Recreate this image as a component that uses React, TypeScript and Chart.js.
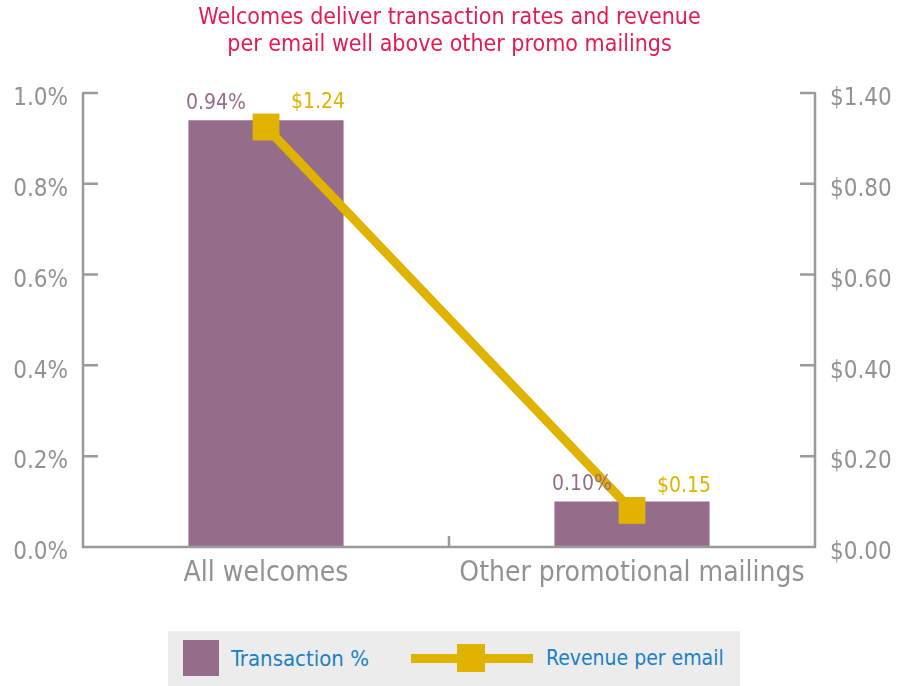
import React, { useEffect, useRef } from "react";
import { Chart, registerables } from "chart.js";
Chart.register(...registerables);

const categories = ["All welcomes", "Other promotional mailings"];
const transactionPct = [0.94, 0.1];
const revenuePerEmail = [1.24, 0.15];
const leftTickValues = [0, 0.2, 0.4, 0.6, 0.8, 1.0];
const rightTickLabels = ["$0.00", "$0.20", "$0.40", "$0.60", "$0.80", "$1.40"];
const titleLines = [
  "Welcomes deliver transaction rates and revenue",
  "per email well above other promo mailings",
];
const legendLabels = ["Transaction %", "Revenue per email"];

const RIGHT_MIN = 0.046;
const RIGHT_MAX = 1.337;

const FONT = '"Liberation Sans Narrow", "DejaVu Sans Condensed", "Roboto Condensed", "Liberation Sans", sans-serif';
const PURPLE = "#966c8b";
const GOLD = "#dfb300";
const AXIS = "#9a9a9a";
const TEXT_GRAY = "#929292";
const TITLE = "#e61a50";
const BLUE = "#1a80c4";

const axesPlugin = {
  id: "customAxes",
  afterDatasetsDraw(chart: any) {
    const { ctx, chartArea } = chart;
    const { left, right, top, bottom } = chartArea;
    const yL = chart.scales.y;
    const yR = chart.scales.y1;
    ctx.save();
    ctx.strokeStyle = AXIS;
    ctx.lineWidth = 2.5;
    ctx.beginPath();
    ctx.moveTo(left, top - 1);
    ctx.lineTo(left, bottom);
    ctx.lineTo(right, bottom);
    ctx.lineTo(right, top - 1);
    yL.ticks.forEach((t: any) => {
      const py = yL.getPixelForValue(t.value);
      ctx.moveTo(left, py);
      ctx.lineTo(left + 15, py);
    });
    yR.ticks.forEach((t: any) => {
      const py = yR.getPixelForValue(t.value);
      ctx.moveTo(right, py);
      ctx.lineTo(right - 15, py);
    });
    const mid = (left + right) / 2;
    ctx.moveTo(mid, bottom);
    ctx.lineTo(mid, bottom - 11);
    ctx.stroke();
    ctx.restore();
  },
  afterDraw(chart: any) {
    const { ctx } = chart;
    ctx.save();
    ctx.font = `21px ${FONT}`;
    ctx.textAlign = "center";
    ctx.textBaseline = "middle";
    const barMeta = chart.getDatasetMeta(0);
    barMeta.data.forEach((el: any, i: number) => {
      ctx.fillStyle = PURPLE;
      ctx.fillText(transactionPct[i].toFixed(2) + "%", el.x - 50, el.y - 17);
    });
    const lineMeta = chart.getDatasetMeta(1);
    lineMeta.data.forEach((el: any, i: number) => {
      ctx.fillStyle = GOLD;
      ctx.fillText("$" + revenuePerEmail[i].toFixed(2), el.x + 52, el.y - 24);
    });
    ctx.restore();
  },
};

export default function App() {
  const ref = useRef<HTMLCanvasElement | null>(null);
  useEffect(() => {
    if (!ref.current) return;
    const chart = new Chart(ref.current, {
      data: {
        labels: categories,
        datasets: [
          {
            type: "bar",
            label: legendLabels[0],
            data: transactionPct,
            yAxisID: "y",
            backgroundColor: PURPLE,
            barPercentage: 1,
            categoryPercentage: 0.424,
            order: 1,
          } as any,
          {
            type: "line",
            label: legendLabels[1],
            data: revenuePerEmail,
            yAxisID: "y1",
            borderColor: GOLD,
            backgroundColor: GOLD,
            borderWidth: 9,
            tension: 0,
            pointStyle: "rect",
            pointRadius: 19,
            pointBorderWidth: 0,
            pointBackgroundColor: GOLD,
            order: 0,
          } as any,
        ],
      },
      options: {
        responsive: false,
        animation: false,
        layout: { padding: 0 },
        plugins: {
          legend: { display: false },
          tooltip: { enabled: false },
          title: {
            display: true,
            text: titleLines,
            color: TITLE,
            font: { family: FONT, size: 23, lineHeight: 1.15, weight: "normal" },
            padding: { top: 5, bottom: 35 },
          },
        },
        scales: {
          x: {
            grid: { display: false, drawTicks: false },
            border: { display: false },
            ticks: {
              color: TEXT_GRAY,
              font: { family: FONT, size: 28 },
              padding: 10,
              maxRotation: 0,
              autoSkip: false,
            },
            afterFit(scale: any) {
              scale.height = 139;
            },
          },
          y: {
            position: "left",
            min: 0,
            max: 1.0,
            grid: { display: false, drawTicks: false },
            border: { display: false },
            afterBuildTicks(scale: any) {
              scale.ticks = leftTickValues.map((v) => ({ value: v }));
            },
            ticks: {
              color: TEXT_GRAY,
              font: { family: FONT, size: 24 },
              padding: 15,
              labelOffset: 6,
              callback: (v: any) => Number(v).toFixed(1) + "%",
            },
            afterFit(scale: any) {
              scale.width = 83;
            },
          },
          y1: {
            position: "right",
            min: RIGHT_MIN,
            max: RIGHT_MAX,
            grid: { display: false, drawTicks: false },
            border: { display: false },
            afterBuildTicks(scale: any) {
              scale.ticks = rightTickLabels.map((_, i) => ({
                value: RIGHT_MIN + (i * (RIGHT_MAX - RIGHT_MIN)) / (rightTickLabels.length - 1),
              }));
            },
            ticks: {
              color: TEXT_GRAY,
              font: { family: FONT, size: 24 },
              padding: 15,
              labelOffset: 6,
              callback: (_v: any, i: number) => rightTickLabels[i],
            },
            afterFit(scale: any) {
              scale.width = 84;
            },
          },
        },
      } as any,
      plugins: [axesPlugin],
    });
    return () => chart.destroy();
  }, []);

  const legendText: React.CSSProperties = {
    position: "absolute",
    top: 0,
    height: 55,
    lineHeight: "55px",
    color: BLUE,
    fontFamily: FONT,
    whiteSpace: "nowrap",
  };

  return (
    <div style={{ position: "absolute", left: 0, top: 0, width: 899, height: 686, background: "#fff" }}>
      <canvas ref={ref} width={899} height={686} style={{ display: "block" }} />
      <div
        style={{
          position: "absolute",
          left: 168,
          top: 631,
          width: 572,
          height: 55,
          background: "#ececec",
        }}
      >
        <div style={{ position: "absolute", left: 15, top: 9, width: 36, height: 36, background: PURPLE }} />
        <div style={{ ...legendText, left: 63, fontSize: 22 }}>{legendLabels[0]}</div>
        <div style={{ position: "absolute", left: 243, top: 23, width: 122, height: 9, background: GOLD }} />
        <div style={{ position: "absolute", left: 289, top: 13, width: 28, height: 28, background: GOLD }} />
        <div style={{ ...legendText, left: 378, fontSize: 21 }}>{legendLabels[1]}</div>
      </div>
    </div>
  );
}
